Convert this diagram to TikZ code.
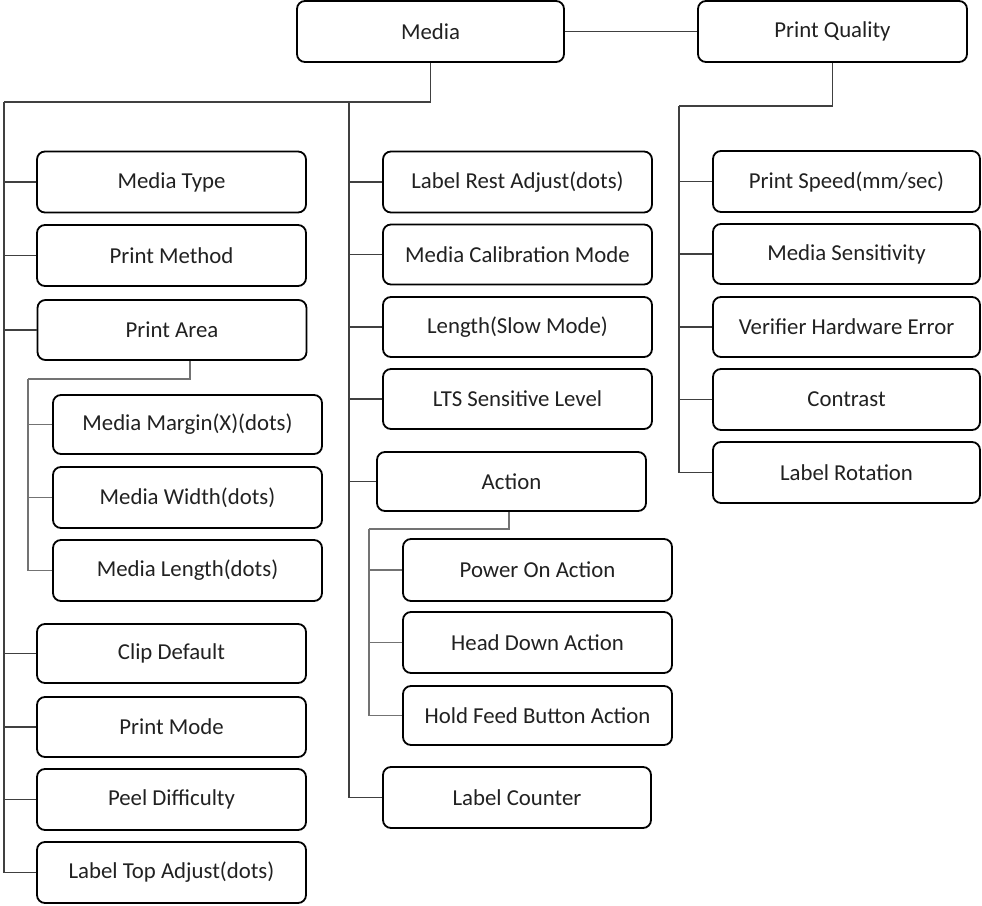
\documentclass[tikz,border=0pt]{standalone}
\usepackage{fontspec}
\setmainfont{Carlito}
\begin{document}
\begin{tikzpicture}[x=1pt,y=-1pt,
  box/.style={draw=black,line width=1.8pt,rounded corners=8pt,fill=white,
    minimum width=269pt,minimum height=61pt,inner sep=0pt,
    text=black!87,font=\fontsize{22.8}{26}\selectfont},
  conn/.style={draw=black!75,line width=1.1pt},
  subconn/.style={draw=black!55,line width=1.3pt}]
\useasboundingbox (0,0) rectangle (982,905);
% top
\node[box,minimum width=267pt] (media) at (430.5,31.5) {Media};
\node[box] (pq) at (832.5,31.5) {Print Quality};
% left column
\node[box] (mtype) at (171.5,182) {Media Type};
\node[box] (pmethod) at (171.5,255.5) {Print Method};
\node[box,minimum height=60pt] (parea) at (172,330) {Print Area};
\node[box,minimum height=59pt] (mmargin) at (187.5,424.5) {Media Margin(X)(dots)};
\node[box] (mwidth) at (187.5,497.5) {Media Width(dots)};
\node[box] (mlength) at (187.5,570.5) {Media Length(dots)};
\node[box,minimum height=59pt] (clip) at (171.5,653.5) {Clip Default};
\node[box,minimum height=60pt] (pmode) at (171.5,727) {Print Mode};
\node[box] (peel) at (171.5,799.5) {Peel Difficulty};
\node[box] (ltop) at (171.5,872.5) {Label Top Adjust(dots)};
% middle column
\node[box] (lrest) at (517.5,182) {Label Rest Adjust(dots)};
\node[box,minimum height=60pt] (mcal) at (517.5,254.5) {Media Calibration Mode};
\node[box,minimum height=60pt] (lslow) at (517.5,327) {Length(Slow Mode)};
\node[box,minimum height=60pt] (lts) at (517.5,399) {LTS Sensitive Level};
\node[box,minimum height=59pt] (action) at (511.5,481.5) {Action};
\node[box,minimum height=62pt] (pon) at (537.5,570) {Power On Action};
\node[box] (hdown) at (537.5,642.5) {Head Down Action};
\node[box,minimum height=59pt] (hfeed) at (537.5,715.5) {Hold Feed Button Action};
\node[box,minimum width=268pt] (lcount) at (517,797.5) {Label Counter};
% right column
\node[box,minimum width=267pt] (pspeed) at (846.5,181.5) {Print Speed(mm/sec)};
\node[box,minimum width=267pt,minimum height=60pt] (msens) at (846.5,254) {Media Sensitivity};
\node[box,minimum width=267pt,minimum height=60pt] (verr) at (846.5,327) {Verifier Hardware Error};
\node[box,minimum width=267pt] (contrast) at (846.5,399.5) {Contrast};
\node[box,minimum width=267pt] (lrot) at (846.5,472.5) {Label Rotation};
% bus coordinates
\coordinate (lbus) at (4,102);
\coordinate (mbus) at (349,102);
\coordinate (rbus) at (679,106);
\coordinate (pabus) at (28,379);
\coordinate (acbus) at (369,529);
% connectors
\draw[conn] (media.east) -- (pq.west);
\draw[conn] (media.south) |- (lbus);
\draw[conn] (lbus) |- (ltop.west);
\draw[conn] (mbus) |- (lcount.west);
\draw[conn] (pq.south) |- (rbus);
\draw[conn] (rbus) |- (lrot.west);
\foreach \n in {mtype,pmethod,parea,clip,pmode,peel}
  \draw[conn] (\n.west) -- (\n.west -| lbus);
\foreach \n in {lrest,mcal,lslow,lts,action}
  \draw[conn] (\n.west) -- (\n.west -| mbus);
\foreach \n in {pspeed,msens,verr,contrast}
  \draw[conn] (\n.west) -- (\n.west -| rbus);
% sub-groups
\draw[subconn] (parea.south -| 190,0) |- (pabus);
\draw[subconn] (pabus) |- (mlength.west);
\foreach \n in {mmargin,mwidth}
  \draw[subconn] (\n.west) -- (\n.west -| pabus);
\draw[subconn] (action.south -| 509,0) |- (acbus);
\draw[subconn] (acbus) |- (hfeed.west);
\foreach \n in {pon,hdown}
  \draw[subconn] (\n.west) -- (\n.west -| acbus);
\end{tikzpicture}
\end{document}
